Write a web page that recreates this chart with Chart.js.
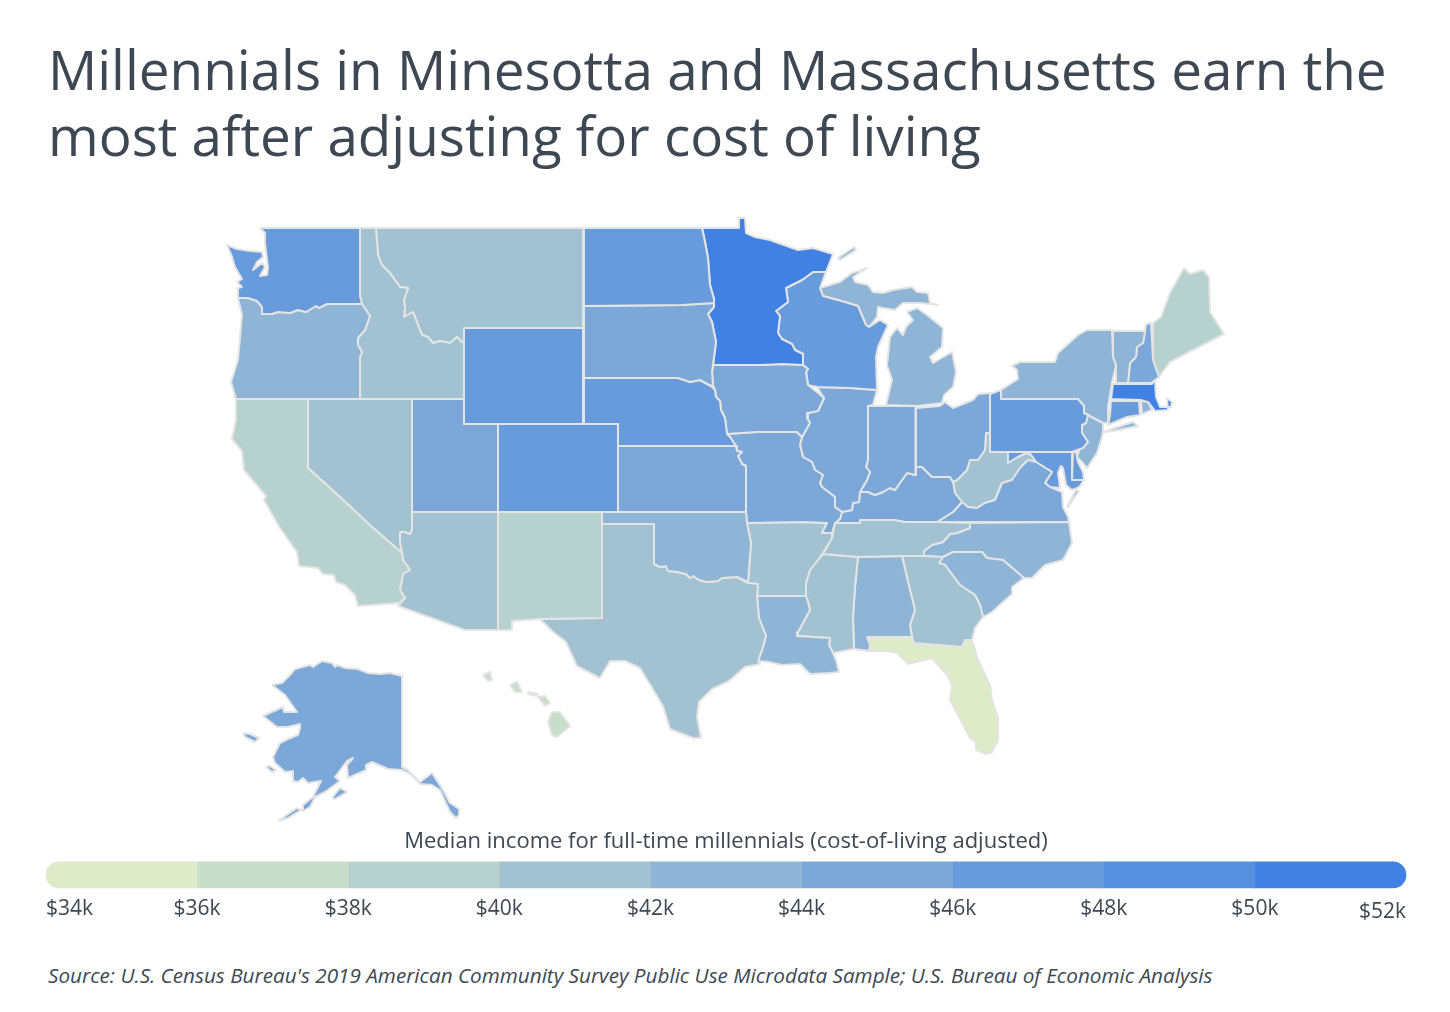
<!DOCTYPE html>
<html>
<head>
<meta charset="utf-8">
<title>Millennial income map</title>
<script src="https://cdn.jsdelivr.net/npm/chart.js@4"></script>
<style>
    html, body { margin: 0; padding: 0; background: #fff; }
    body { width: 1450px; height: 1012px; position: relative; overflow: hidden; font-family: "Open Sans", sans-serif; color: #3d4852; }
    h1 { position: absolute; left: 48px; top: 36px; margin: 0; font-size: 54.8px; line-height: 66px; font-weight: 400; white-space: nowrap; }
    #source { position: absolute; left: 48px; top: 961px; font-size: 20.7px; font-style: italic; line-height: 28px; white-space: nowrap; }
    canvas { position: absolute; left: 0; }
    #map-chart { top: 200px; }
    #scale-chart { top: 825px; }
</style>
</head>
<body>
<h1>Millennials in Minesotta and Massachusetts earn the<br>most after adjusting for cost of living</h1>
<canvas id="map-chart" width="1450" height="630"></canvas>
<canvas id="scale-chart" width="1450" height="103"></canvas>
<div id="source">Source: U.S. Census Bureau's 2019 American Community Survey Public Use Microdata Sample; U.S. Bureau of Economic Analysis</div>
<script>
// income bins of the colour scale ($k)
const binEdges = [34, 36, 38, 40, 42, 44, 46, 48, 50, 52];
const binColors = ['#deebc9', '#c9ddcb', '#b7d1ce', '#a2c2d2', '#8eb5d5', '#7ba8d8', '#689bdc', '#558fe0', '#4281e4'];

// median income per state ($k), estimated from the colour bins
const stateNames = ['WA','OR','CA','ID','NV','MT','WY','UT','AZ','CO','NM','ND','SD','NE','KS','OK','TX','MN','IA','MO','AR','LA','WI','IL','MI','IN','OH','KY','TN','MS','AL','GA','FL','SC','NC','VA','WV','PA','NY','MD','DE','NJ','CT','RI','MA','VT','NH','ME','AK','HI'];
const stateIncome = [47,43,39,41,41,41,47,45,41,47,39,47,45,47,45,43,41,51,45,45,41,43,47,45,43,45,45,45,41,41,43,41,35,43,43,45,41,47,43,47,47,43,47,43,51,43,45,39,45,37];

// state outlines in map units
const outlineWA = [[260,228],[360,228],[360,296],[362,304],[327,304],[319,308],[316,306],[306,312],[298,310],[290,313],[278,312],[272,314],[262,314],[262,307],[257,301],[248,298],[238,298],[238,288],[242,287],[237,282],[242,279],[235,267],[232,257],[227,245],[237,249],[250,251],[262,252],[263,257],[257,262],[253,270],[262,263],[265,267],[260,276],[267,275],[268,268],[265,243],[265,233]];
const outlineOR = [[238,298],[248,298],[257,301],[262,307],[262,314],[272,314],[278,312],[290,313],[298,310],[306,312],[316,306],[319,308],[327,304],[362,304],[370,316],[365,330],[358,338],[358,345],[362,352],[360,357],[360,399],[236,399],[231,382],[238,360],[242,315]];
const outlineID = [[360,228],[376,228],[378,255],[382,265],[390,273],[400,287],[408,288],[404,300],[405,308],[404,317],[413,312],[418,325],[422,335],[428,337],[433,343],[440,341],[450,343],[457,337],[462,342],[464,342],[464,399],[360,399],[360,357],[362,352],[358,345],[358,338],[365,330],[370,316],[362,304],[360,296]];
const outlineMT = [[376,228],[583,228],[583,328],[464,328],[464,342],[462,342],[457,337],[450,343],[440,341],[433,343],[428,337],[422,335],[418,325],[413,312],[404,317],[405,308],[404,300],[408,288],[400,287],[390,273],[382,265],[378,255]];
const outlineWY = [[464,328],[583,328],[583,424],[464,424]];
const outlineUT = [[412,399],[464,399],[464,424],[498,424],[498,512],[412,512]];
const outlineCO = [[498,424],[618,424],[618,512],[498,512]];
const outlineNV = [[308,399],[412,399],[412,530],[410,534],[405,532],[400,532],[400,543],[402,553],[372,527],[340,497],[308,468]];
const outlineCA = [[236,399],[308,399],[308,468],[340,497],[372,527],[402,553],[403,560],[410,570],[403,574],[400,590],[405,598],[399,603],[358,606],[355,595],[345,585],[336,582],[334,575],[323,574],[318,568],[299,566],[297,552],[280,528],[264,500],[266,496],[244,470],[242,451],[232,439],[236,420]];
const outlineAZ = [[412,512],[498,512],[498,630],[465,630],[398,606],[405,598],[400,590],[403,574],[410,570],[403,560],[402,553],[400,543],[400,532],[405,532],[410,534],[412,530]];
const outlineNM = [[498,512],[602,512],[602,618],[540,619],[512,621],[512,630],[498,630]];
const outlineND = [[584,228],[702,228],[704,237],[708,258],[710,285],[714,299],[714,303],[682,305],[584,306]];
const outlineSD = [[584,306],[682,305],[714,303],[714,307],[708,314],[712,322],[716,342],[713,365],[712,372],[713,385],[711,386],[700,380],[690,382],[678,378],[584,378]];
const outlineNE = [[584,378],[678,378],[690,382],[700,380],[711,386],[715,390],[716,397],[720,401],[721,410],[725,418],[727,434],[730,437],[736,446],[618,446],[618,424],[584,424]];
const outlineKS = [[618,446],[736,446],[737,451],[742,452],[738,456],[742,464],[746,466],[746,512],[618,512]];
const outlineOK = [[602,512],[746,512],[747,523],[751,543],[748,582],[737,577],[722,578],[718,581],[707,582],[699,580],[693,576],[690,578],[686,574],[677,572],[668,571],[666,566],[660,567],[654,564],[654,524],[602,524]];
const outlineTX = [[602,524],[654,524],[654,564],[660,567],[666,566],[668,571],[677,572],[686,574],[690,578],[693,576],[699,580],[707,582],[718,581],[722,578],[737,577],[748,583],[758,584],[757,595],[759,618],[766,636],[762,650],[758,661],[760,664],[745,667],[729,681],[712,689],[699,702],[697,717],[701,738],[693,738],[670,729],[663,706],[640,668],[625,661],[610,661],[600,678],[577,666],[566,642],[552,631],[540,619],[602,618]];
const outlineMN = [[702,228],[739,228],[739,218],[745,218],[746,233],[755,237],[770,240],[798,250],[813,248],[833,254],[826,272],[813,272],[802,280],[786,288],[788,302],[776,311],[780,316],[778,333],[782,339],[792,344],[795,350],[803,354],[803,365],[783,364],[760,365],[713,365],[716,342],[712,322],[708,314],[714,307],[714,299],[710,285],[708,258],[704,237]];
const outlineIA = [[713,365],[760,365],[783,364],[803,365],[808,369],[806,372],[808,385],[817,392],[824,398],[818,411],[808,413],[807,418],[810,423],[802,437],[797,432],[757,432],[727,434],[725,418],[721,410],[720,401],[716,397],[715,390],[713,385],[712,372]];
const outlineMO = [[727,434],[757,432],[797,432],[802,437],[800,445],[803,457],[812,462],[815,470],[823,475],[820,483],[822,487],[835,497],[835,507],[842,512],[840,519],[835,523],[832,533],[822,533],[827,523],[803,522],[747,523],[746,512],[746,466],[742,464],[738,456],[742,452],[737,451],[736,446],[730,437]];
const outlineAR = [[747,523],[803,522],[827,523],[822,533],[832,533],[832,538],[823,553],[818,560],[810,570],[806,583],[806,596],[757,596],[758,584],[748,583],[751,543]];
const outlineLA = [[757,596],[806,596],[808,602],[810,610],[798,632],[797,636],[830,638],[829,645],[833,653],[836,660],[839,672],[830,673],[810,674],[800,664],[782,665],[769,662],[758,661],[762,650],[766,636],[759,618]];
const outlineWI = [[813,272],[826,272],[820,288],[823,296],[845,302],[858,306],[863,318],[866,325],[869,327],[880,320],[888,325],[878,347],[876,357],[877,390],[850,388],[817,387],[808,385],[806,372],[808,369],[803,365],[803,354],[795,350],[792,344],[782,339],[778,333],[780,316],[776,311],[788,302],[786,288],[802,280]];
const outlineIL = [[817,387],[850,388],[877,390],[873,405],[868,406],[868,460],[866,467],[870,472],[867,480],[860,492],[859,502],[853,503],[852,510],[842,512],[835,507],[835,497],[822,487],[820,483],[823,475],[815,470],[812,462],[803,457],[800,445],[802,437],[810,423],[807,418],[808,413],[818,411],[824,398]];
const outlineMIUpper = [[820,288],[840,282],[852,273],[867,268],[853,277],[855,282],[868,285],[873,292],[883,293],[893,290],[912,287],[917,292],[928,293],[930,303],[938,305],[920,303],[903,303],[895,310],[883,308],[878,307],[877,317],[869,327],[866,325],[863,318],[858,306],[845,302],[823,296]];
const outlineMILower = [[917,308],[927,315],[943,328],[942,347],[930,357],[933,363],[952,352],[956,372],[953,387],[944,395],[942,403],[917,406],[886,405],[892,380],[887,365],[890,337],[897,328],[903,335],[906,327],[913,320],[907,312]];
const outlineMIIsle = [[838,258],[854,247],[856,250],[840,260]];
const outlineIN = [[868,406],[916,406],[916,467],[915,475],[907,473],[895,490],[890,488],[883,492],[875,495],[868,492],[860,492],[867,480],[870,472],[866,467],[868,460]];
const outlineOH = [[916,408],[940,406],[945,402],[953,408],[973,400],[978,394],[990,393],[990,433],[986,433],[985,450],[978,460],[970,460],[967,470],[957,480],[953,482],[950,477],[932,477],[922,467],[916,467]];
const outlineKY = [[835,507],[842,512],[852,510],[853,503],[859,502],[860,492],[868,492],[875,495],[883,492],[890,488],[895,490],[907,473],[915,475],[916,467],[922,467],[932,477],[950,477],[953,482],[955,493],[962,502],[953,512],[937,522],[905,522],[895,520],[860,520],[860,523],[835,523],[840,519],[842,512]];
const outlineTN = [[835,523],[860,523],[860,520],[895,520],[905,522],[937,522],[970,523],[970,528],[957,533],[950,534],[943,542],[932,545],[924,551],[924,556],[902,556],[858,557],[823,554],[832,538]];
const outlineMS = [[823,554],[858,557],[855,587],[853,617],[854,649],[833,653],[829,645],[830,638],[797,636],[798,632],[810,610],[808,602],[806,596],[806,583],[810,570],[818,560]];
const outlineAL = [[858,557],[902,556],[910,590],[915,610],[910,625],[912,637],[867,637],[870,645],[869,651],[854,649],[853,617],[855,587]];
const outlineGA = [[902,556],[924,556],[943,557],[939,563],[945,565],[960,585],[975,595],[980,605],[983,617],[975,628],[972,640],[965,640],[962,647],[914,643],[912,637],[910,625],[915,610],[910,590]];
const outlineFL = [[867,637],[912,637],[914,643],[962,647],[965,640],[972,640],[978,660],[990,685],[992,700],[998,718],[998,740],[992,752],[986,754],[977,750],[976,742],[970,738],[958,715],[950,700],[952,685],[947,675],[932,658],[908,664],[897,653],[887,651],[869,651],[870,645]];
const outlineSC = [[943,557],[953,552],[982,552],[987,558],[1003,560],[1024,578],[1012,587],[1012,594],[992,612],[983,617],[980,605],[975,595],[960,585],[945,565],[939,563]];
const outlineNC = [[970,523],[1069,522],[1072,543],[1063,560],[1045,565],[1032,578],[1024,578],[1003,560],[987,558],[982,552],[953,552],[943,557],[924,556],[924,551],[932,545],[943,542],[950,534],[957,533],[970,528]];
const outlineVA = [[937,522],[953,512],[962,502],[968,507],[977,508],[985,503],[995,500],[1002,483],[1012,480],[1020,468],[1028,460],[1036,462],[1052,472],[1045,483],[1050,487],[1062,492],[1063,507],[1068,517],[1069,522]];
const outlineVAShore = [[1076,490],[1079,491],[1068,507],[1067,507]];
const outlineWV = [[990,433],[990,452],[1008,452],[1008,463],[1018,457],[1027,453],[1031,455],[1036,462],[1028,460],[1020,468],[1012,480],[1002,483],[995,500],[985,503],[977,508],[968,507],[962,502],[955,493],[953,482],[957,480],[967,470],[970,460],[978,460],[985,450],[986,433]];
const outlinePA = [[990,394],[1001,390],[1001,399],[1078,399],[1084,406],[1084,413],[1088,415],[1086,423],[1082,425],[1082,433],[1088,442],[1083,448],[1072,452],[990,452]];
const outlineNY = [[1001,390],[1018,379],[1017,370],[1012,366],[1020,362],[1055,362],[1058,353],[1078,335],[1087,330],[1112,330],[1113,357],[1116,365],[1112,383],[1108,407],[1108,423],[1103,423],[1088,415],[1084,413],[1084,406],[1078,399],[1001,399]];
const outlineNYIsland = [[1103,432],[1133,422],[1138,426],[1113,431]];
const outlineNJ = [[1088,415],[1103,423],[1103,432],[1102,437],[1097,453],[1087,468],[1083,463],[1077,457],[1080,448],[1088,442],[1082,433],[1082,425],[1086,423]];
const outlineDE = [[1073,452],[1076,452],[1078,462],[1083,472],[1084,480],[1072,480]];
const outlineMD = [[1008,452],[1072,452],[1072,480],[1084,480],[1080,486],[1077,488],[1072,490],[1066,485],[1063,468],[1061,466],[1058,473],[1060,488],[1050,487],[1045,483],[1052,472],[1036,462],[1031,455],[1027,453],[1018,457],[1008,463]];
const outlineCT = [[1111,401],[1139,401],[1140,415],[1127,417],[1108,425],[1110,415]];
const outlineRI = [[1141,401],[1148,402],[1152,410],[1142,414]];
const outlineMA = [[1113,384],[1152,384],[1155,380],[1156,397],[1160,407],[1171,407],[1172,402],[1167,398],[1168,410],[1155,411],[1149,403],[1141,400],[1111,399]];
const outlineVT = [[1113,331],[1145,331],[1143,343],[1137,347],[1136,357],[1130,363],[1128,383],[1116,383],[1116,365],[1113,357]];
const outlineNH = [[1146,324],[1151,323],[1153,360],[1159,377],[1155,380],[1151,383],[1128,383],[1130,363],[1136,357],[1137,347],[1143,343],[1145,331]];
const outlineME = [[1153,323],[1161,317],[1170,293],[1184,268],[1190,274],[1203,270],[1209,277],[1210,312],[1224,334],[1170,362],[1159,377],[1153,360]];
const outlineAK = [[272,685],[282,683],[290,675],[295,669],[310,665],[313,667],[322,661],[332,663],[335,667],[337,665],[343,667],[345,668],[358,669],[368,673],[380,674],[390,673],[402,676],[402,767],[408,770],[420,782],[432,773],[443,790],[450,803],[459,809],[459,815],[456,818],[450,812],[440,790],[432,785],[420,784],[412,775],[402,770],[388,769],[372,762],[366,765],[366,770],[348,778],[347,765],[353,758],[347,761],[335,777],[340,781],[325,792],[315,797],[310,807],[303,811],[303,805],[313,797],[321,781],[308,783],[303,778],[298,782],[293,781],[293,771],[285,772],[275,763],[273,757],[280,743],[288,739],[298,735],[300,728],[300,724],[288,727],[277,727],[263,716],[283,707],[284,712],[297,712],[285,695]];
const outlineAKKodiak = [[332,798],[340,788],[347,792],[335,799]];
const outlineAKTail = [[278,821],[297,808],[301,810],[288,818]];
const outlineAKLawrence = [[243,733],[250,734],[259,738],[255,742],[245,737]];
const outlineAKNunivak = [[266,767],[270,766],[276,770],[272,772]];
const outlineHIKauai = [[483,675],[490,672],[492,680],[488,681]];
const outlineHIOahu = [[510,685],[517,682],[522,692],[515,692]];
const outlineHIMolokai = [[528,692],[538,694],[537,696],[528,694]];
const outlineHIMaui = [[538,697],[545,696],[550,703],[545,706]];
const outlineHIBig = [[552,712],[560,712],[570,726],[557,737],[552,735],[548,722]];

// which state each outline belongs to
const mapParts = [
    ['WA', outlineWA], ['OR', outlineOR], ['CA', outlineCA], ['ID', outlineID], ['NV', outlineNV], ['MT', outlineMT],
    ['WY', outlineWY], ['UT', outlineUT], ['AZ', outlineAZ], ['CO', outlineCO], ['NM', outlineNM], ['ND', outlineND],
    ['SD', outlineSD], ['NE', outlineNE], ['KS', outlineKS], ['OK', outlineOK], ['TX', outlineTX], ['MN', outlineMN],
    ['IA', outlineIA], ['MO', outlineMO], ['AR', outlineAR], ['LA', outlineLA], ['WI', outlineWI], ['IL', outlineIL],
    ['MI', outlineMIUpper], ['MI', outlineMILower], ['MI', outlineMIIsle], ['IN', outlineIN], ['OH', outlineOH],
    ['KY', outlineKY], ['TN', outlineTN], ['MS', outlineMS], ['AL', outlineAL], ['GA', outlineGA], ['FL', outlineFL],
    ['SC', outlineSC], ['NC', outlineNC], ['VA', outlineVA], ['VA', outlineVAShore], ['WV', outlineWV], ['PA', outlinePA],
    ['NY', outlineNY], ['NY', outlineNYIsland], ['MD', outlineMD], ['DE', outlineDE], ['NJ', outlineNJ], ['CT', outlineCT],
    ['RI', outlineRI], ['MA', outlineMA], ['VT', outlineVT], ['NH', outlineNH], ['ME', outlineME],
    ['AK', outlineAK], ['AK', outlineAKKodiak], ['AK', outlineAKTail], ['AK', outlineAKLawrence], ['AK', outlineAKNunivak],
    ['HI', outlineHIKauai], ['HI', outlineHIOahu], ['HI', outlineHIMolokai], ['HI', outlineHIMaui], ['HI', outlineHIBig]
];

const textColor = '#3d4852';
const borderColor = '#e4e4e4';

function colorForIncome(value) {
    const bin = binEdges.findIndex((edge, i) => value >= edge && value < binEdges[i + 1]);
    return binColors[bin];
}

function outlineDataset(state, outline) {
    const points = outline.concat([outline[0]]).map(p => ({ x: p[0], y: p[1] }));
    return {
        label: state,
        data: points,
        showLine: true,
        fill: 'shape',
        tension: 0,
        pointRadius: 0,
        borderWidth: 2,
        borderColor: borderColor,
        borderJoinStyle: 'round',
        backgroundColor: colorForIncome(stateIncome[stateNames.indexOf(state)])
    };
}

// Map
new Chart(document.getElementById('map-chart'), {
    type: 'scatter',
    data: { datasets: mapParts.map(part => outlineDataset(part[0], part[1])) },
    options: {
        responsive: false,
        animation: false,
        layout: { padding: 0 },
        plugins: { legend: { display: false }, tooltip: { enabled: false } },
        scales: {
            x: { type: 'linear', display: false, min: 0, max: 1450 },
            y: { type: 'linear', display: false, min: 200, max: 830, reverse: true }
        }
    }
});

// Colour scale below the map
new Chart(document.getElementById('scale-chart'), {
    type: 'bar',
    data: {
        labels: ['Income'],
        datasets: binColors.map((color, i) => ({
            data: [[binEdges[i], binEdges[i + 1]]],
            backgroundColor: color,
            borderSkipped: false,
            borderWidth: 0,
            clip: false,
            barThickness: 26,
            borderRadius: {
                topLeft: i === 0 ? 13 : 0,
                bottomLeft: i === 0 ? 13 : 0,
                topRight: i === binColors.length - 1 ? 13 : 0,
                bottomRight: i === binColors.length - 1 ? 13 : 0
            }
        }))
    },
    options: {
        responsive: false,
        animation: false,
        indexAxis: 'y',
        layout: { padding: { left: 46, right: 44, top: 0, bottom: 0 } },
        plugins: {
            legend: { display: false },
            tooltip: { enabled: false },
            title: {
                display: true,
                text: 'Median income for full-time millennials (cost-of-living adjusted)',
                color: textColor,
                font: { family: '"Open Sans"', size: 22, weight: '400' },
                padding: { top: 4, bottom: 6 }
            }
        },
        scales: {
            x: {
                type: 'linear',
                min: binEdges[0],
                max: binEdges[binEdges.length - 1],
                grid: { display: false },
                border: { display: false },
                afterBuildTicks: axis => { axis.ticks = binEdges.map(v => ({ value: v })); },
                ticks: {
                    autoSkip: false,
                    maxRotation: 0,
                    align: 'inner',
                    padding: 0,
                    color: textColor,
                    font: ctx => ({
                        family: '"Open Sans"',
                        size: 21,
                        lineHeight: ctx.tick && ctx.tick.value === binEdges[binEdges.length - 1] ? 1.5 : 1.2
                    }),
                    callback: value => '$' + value + 'k'
                }
            },
            y: { display: false, grouped: false, stacked: true }
        }
    }
});
</script>
</body>
</html>
